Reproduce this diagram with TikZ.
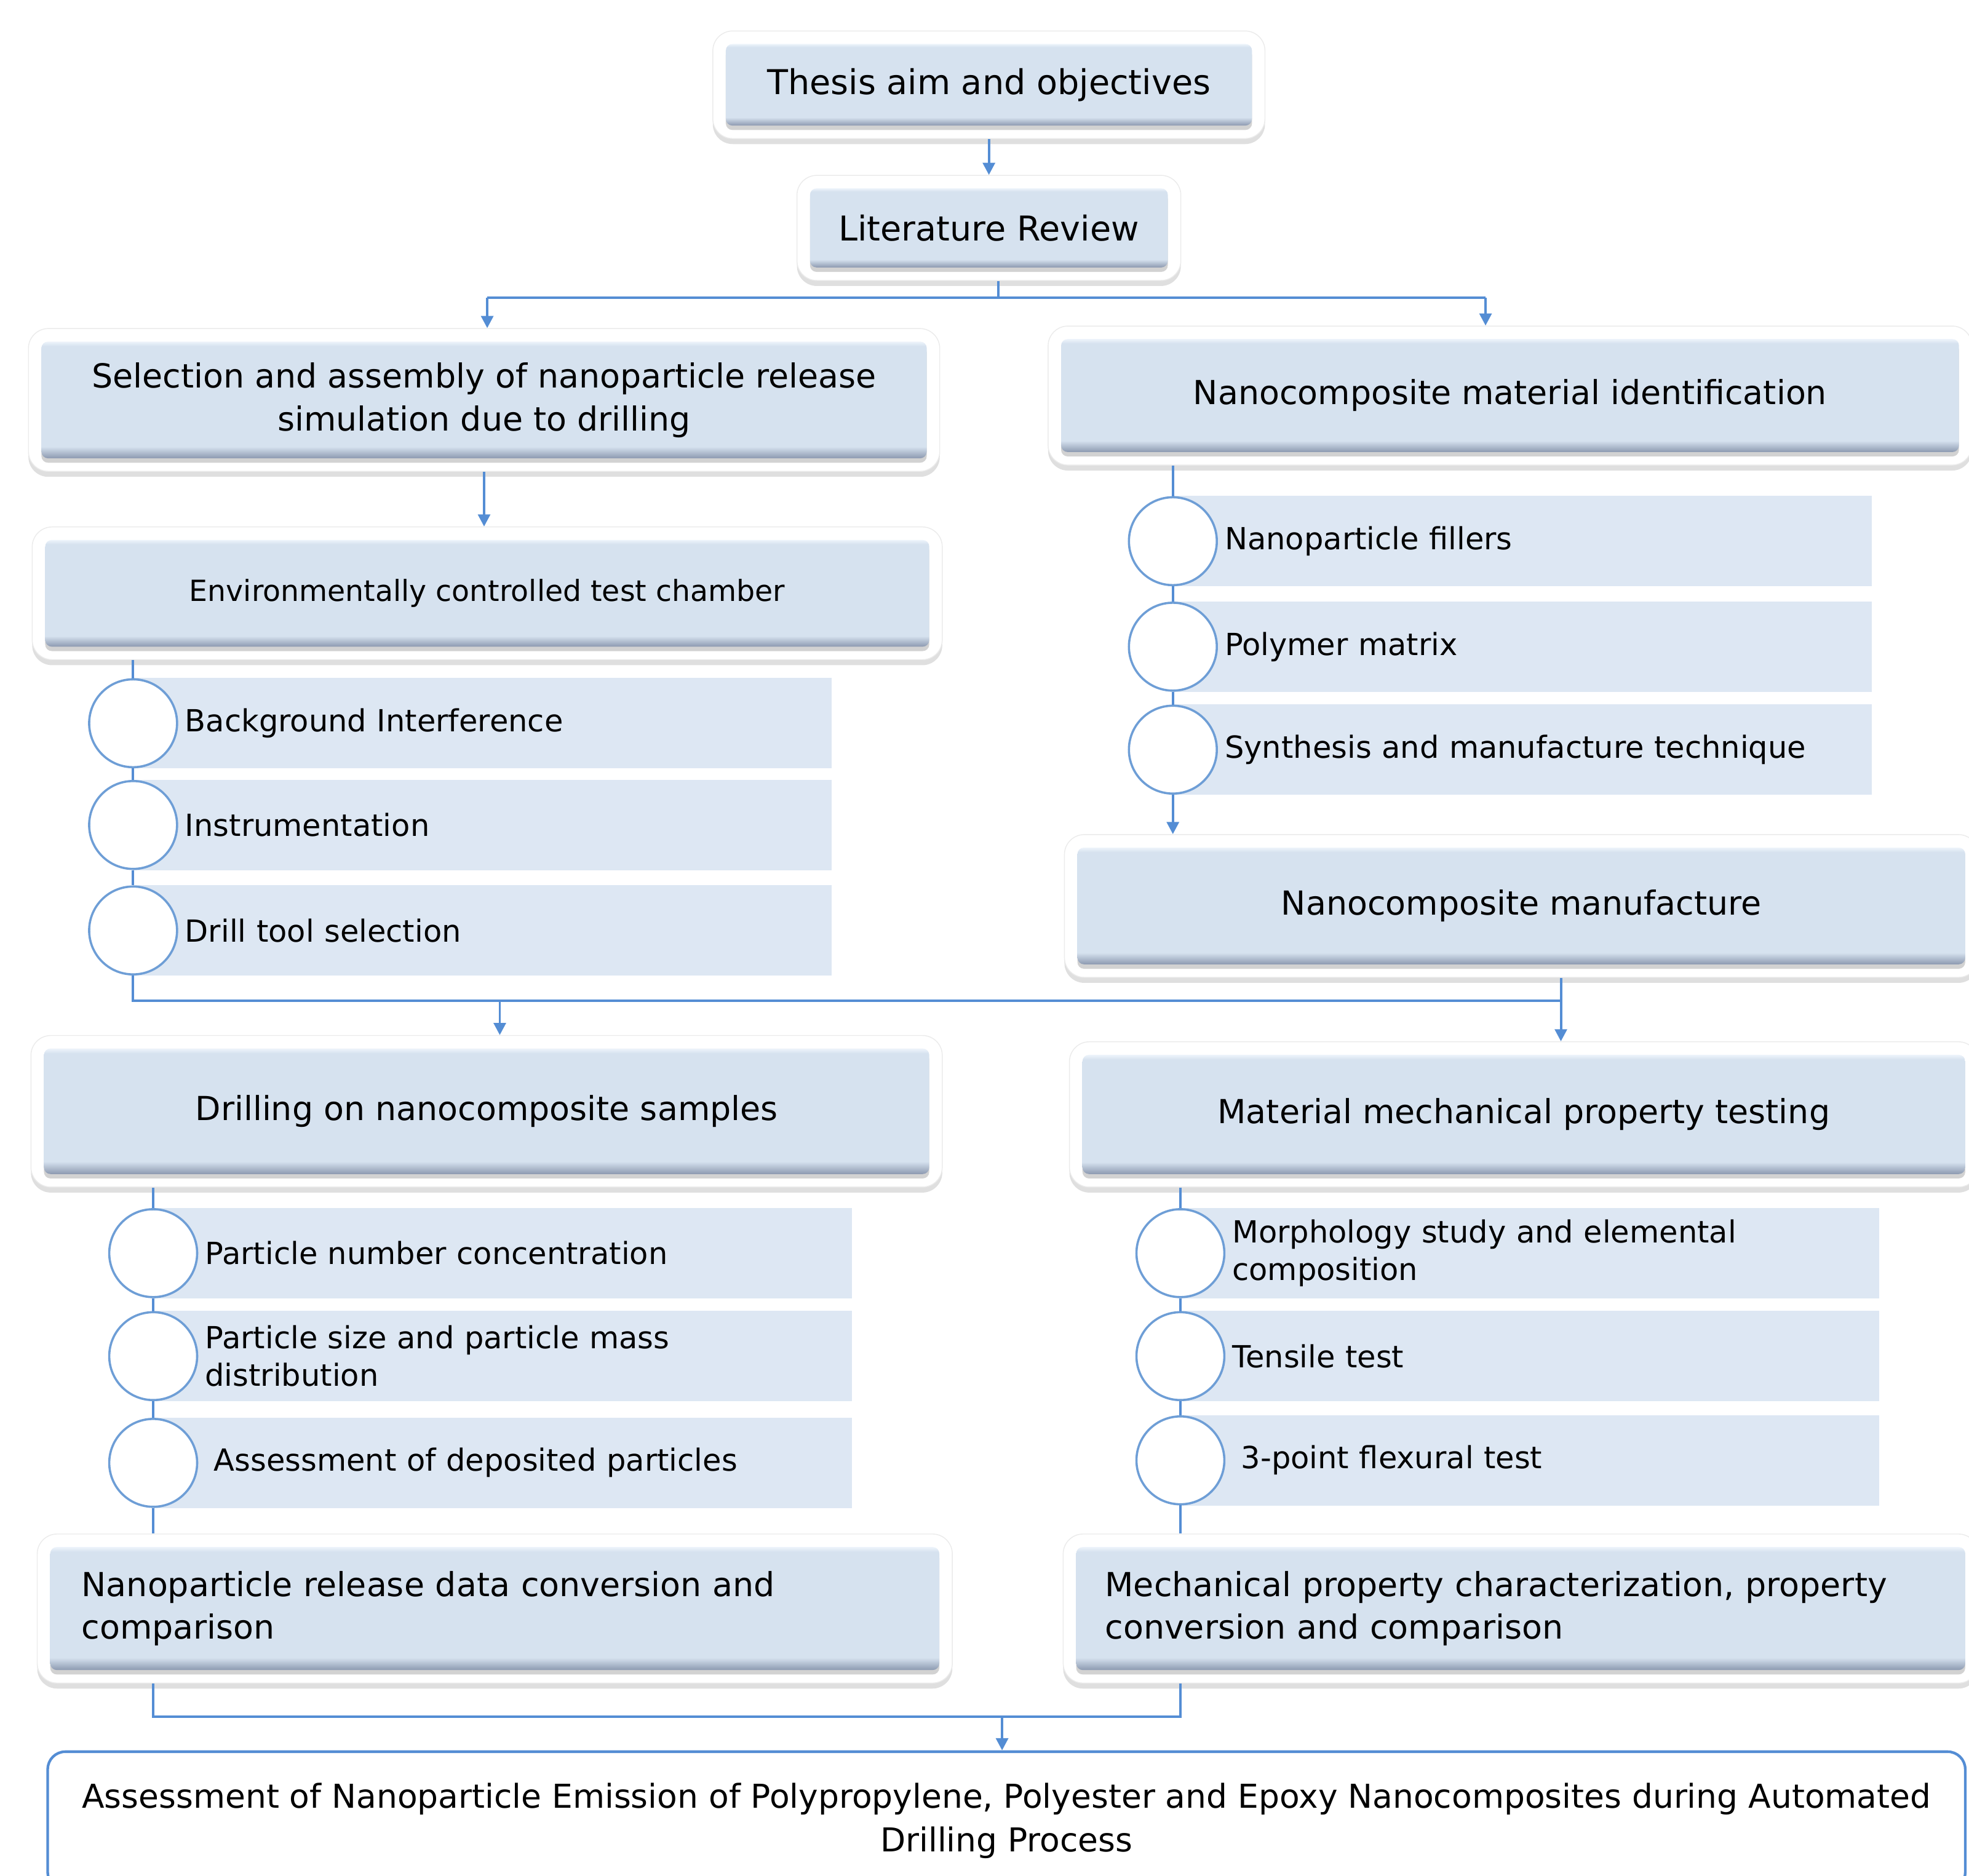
\documentclass[tikz,border=0pt]{standalone}
\usepackage{fontspec}
\setmainfont{DejaVu Sans}
\usetikzlibrary{arrows.meta, positioning, fit, backgrounds, shadows}
\definecolor{linkblue}{RGB}{84,141,212}
\definecolor{dotblue}{RGB}{110,158,214}
\definecolor{itemblue}{RGB}{221,231,243}
\definecolor{panelfill}{RGB}{214,226,239}
\definecolor{paneltop}{RGB}{238,244,251}
\definecolor{panelbot}{RGB}{140,153,176}
\pgfdeclareverticalshading{panelshade}{100bp}{color(0bp)=(panelbot); color(25bp)=(panelbot);
  color(30bp)=(panelfill); color(73bp)=(panelfill); color(75bp)=(paneltop); color(100bp)=(paneltop)}
\tikzset{
  panel/.style={inner sep=0pt, rounded corners=3pt, shading=panelshade,
    drop shadow={shadow xshift=0pt, shadow yshift=-2pt, opacity=0.35}, align=center,
    font=\fontsize{15}{19.5}\selectfont},
  frame/.style={inner sep=2mm, rounded corners=9pt, fill=white, draw=black!8,
    drop shadow={shadow xshift=0pt, shadow yshift=-2.5pt, opacity=0.25}},
  item/.style={anchor=west, fill=itemblue, minimum height=14.4mm, text width=94.8mm,
    inner xsep=8.2mm, align=left, font=\fontsize{13.8}{17}\selectfont},
  dot/.style={circle, draw=dotblue, line width=1pt, fill=white, minimum size=14mm, inner sep=0pt},
  link/.style={draw=linkblue, line width=1.1pt},
  arrow/.style={link, -{Triangle[width=5.5pt,length=5.5pt]}}
}

\begin{document}
\begin{tikzpicture}[x=0.2mm, y=-0.2mm]
  \useasboundingbox (0,0) rectangle (1568,1494);

  % main boxes
  \node[panel, minimum width=83.8mm, minimum height=13mm, font=\fontsize{15.5}{19}\selectfont] (thesis) at (787.5,67.5) {Thesis aim and objectives};
  \node[panel, minimum width=57mm, minimum height=12.6mm, font=\fontsize{15.5}{19}\selectfont] (litrev) at (787.5,181.5) {Literature Review};
  \node[panel, minimum width=141mm, minimum height=18.6mm] (select) at (385.5,318.5) {Selection and assembly of nanoparticle release\\simulation due to drilling};
  \node[panel, minimum width=143mm, minimum height=18mm] (ident) at (1202.5,315) {Nanocomposite material identification};
  \node[panel, minimum width=140.8mm, minimum height=17mm, font=\fontsize{13.2}{16}\selectfont] (chamber) at (388,472.5) {Environmentally controlled test chamber};
  \node[panel, minimum width=141.4mm, minimum height=18.6mm] (manuf) at (1211.5,721.5) {Nanocomposite manufacture};
  \node[panel, minimum width=141mm, minimum height=20mm] (drill) at (387.5,885) {Drilling on nanocomposite samples};
  \node[panel, minimum width=140.6mm, minimum height=19mm] (mech) at (1213.5,887.5) {Material mechanical property testing};
  \node[panel, minimum width=141.6mm, minimum height=19.6mm, text width=131.6mm, align=left] (convL) at (394,1281) {Nanoparticle release data conversion and\\comparison};
  \node[panel, minimum width=141.6mm, minimum height=19.6mm, text width=132.4mm, align=left] (convR) at (1211,1281) {Mechanical property characterization, property\\conversion and comparison};
  \node[minimum width=305.4mm, minimum height=22mm, draw=linkblue, line width=1.2pt, rounded corners=8pt,
    fill=white, align=center, font=\fontsize{14.9}{20}\selectfont] (final) at (801.5,1450)
    {Assessment of Nanoparticle Emission of Polypropylene, Polyester and Epoxy Nanocomposites during Automated\\Drilling Process};

  \begin{scope}[on background layer]
    \foreach \n in {thesis, litrev, select, ident, chamber, manuf, drill, mech, convL, convR}
      \node[frame, fit=(\n)] (\n-f) {};
  \end{scope}

  % bullet lists
  \foreach \y/\t/\n in {576/Background Interference/a, 657/Instrumentation/b, 741/Drill tool selection/c} {
    \node[item] (l1\n) at (106,\y) {\t};
    \node[dot] (d1\n) at (106,\y) {};
  }
  \foreach \y/\t/\n in {431/Nanoparticle fillers/a, 515/Polymer matrix/b, 597/Synthesis and manufacture technique/c} {
    \node[item] (l2\n) at (934,\y) {\t};
    \node[dot] (d2\n) at (934,\y) {};
  }
  \foreach \y/\t/\n in {998/Particle number concentration/a, 1080/{Particle size and particle mass\\distribution}/b,
                        1165/{\hspace*{1.4mm}Assessment of deposited particles}/c} {
    \node[item] (l3\n) at (122,\y) {\t};
    \node[dot] (d3\n) at (122,\y) {};
  }
  \foreach \y/\t/\n in {998/{Morphology study and elemental\\composition}/a, 1080/Tensile test/b,
                        1163/{\hspace*{1.4mm}3-point flexural test}/c} {
    \node[item] (l4\n) at (940,\y) {\t};
    \node[dot] (d4\n) at (940,\y) {};
  }

  % connectors
  \coordinate (split) at (795,237);
  \coordinate (splitL) at (388,237);
  \coordinate (splitR) at (1183,237);
  \coordinate (midL) at (398,797);
  \coordinate (midR) at (1243,797);
  \coordinate (botjoin) at (798,1367);

  \draw[arrow] (thesis-f.south) -- (thesis-f.south |- litrev-f.north);
  \draw[link] (split |- litrev-f.south) -- (split);
  \draw[link] (splitL) -- (splitR);
  \draw[arrow] (splitL) -- (splitL |- select-f.north);
  \draw[arrow] (splitR) -- (splitR |- ident-f.north);
  \draw[arrow] (select-f.south) -- (select-f.south |- chamber-f.north);

  \draw[link] (d1a |- chamber-f.south) -- (d1a.north);
  \draw[link] (d1a.south) -- (d1b.north);
  \draw[link] (d1b.south) -- (d1c.north);
  \draw[link] (d2a |- ident-f.south) -- (d2a.north);
  \draw[link] (d2a.south) -- (d2b.north);
  \draw[link] (d2b.south) -- (d2c.north);
  \draw[arrow] (d2c.south) -- (d2c |- manuf-f.north);

  \draw[link] (d1c.south) |- (midR);
  \draw[link] (midR |- manuf-f.south) -- (midR);
  \draw[arrow] (midL) -- (midL |- drill-f.north);
  \draw[arrow] (midR) -- (midR |- mech-f.north);

  \draw[link] (d3a |- drill-f.south) -- (d3a.north);
  \draw[link] (d3a.south) -- (d3b.north);
  \draw[link] (d3b.south) -- (d3c.north);
  \draw[link] (d3c.south) -- (d3c |- convL-f.north);
  \draw[link] (d4a |- mech-f.south) -- (d4a.north);
  \draw[link] (d4a.south) -- (d4b.north);
  \draw[link] (d4b.south) -- (d4c.north);
  \draw[link] (d4c.south) -- (d4c |- convR-f.north);

  \draw[link] (d3c |- convL-f.south) |- (d4c |- botjoin) -- (d4c |- convR-f.south);
  \draw[arrow] (botjoin) -- (botjoin |- final.north);
\end{tikzpicture}
\end{document}
